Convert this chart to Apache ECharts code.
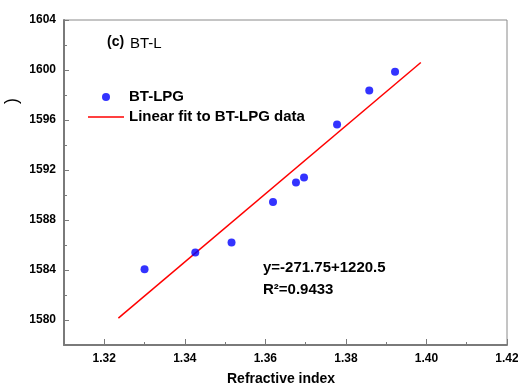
<!DOCTYPE html>
<html>
<head>
<meta charset="utf-8">
<script src="https://cdn.jsdelivr.net/npm/echarts@6/dist/echarts.min.js"></script>
<style>
  html, body { margin: 0; padding: 0; background: #fff; }
  #chart { width: 518px; height: 392px; }
</style>
</head>
<body>
<div id="chart"></div>
<script>
// data
var refIndex = [1.3300, 1.3426, 1.3516, 1.3619, 1.3676, 1.3696, 1.3778, 1.3858, 1.3922];
var ramanShift = [1584.06, 1585.40, 1586.20, 1589.44, 1591.00, 1591.40, 1595.65, 1598.37, 1599.87];
var fitX = [1.3235, 1.3986];
var fitY = [1580.15, 1600.60];

// tick labels
var xTicks = [1.32, 1.34, 1.36, 1.38, 1.40, 1.42];
var xMinor = [1.33, 1.35, 1.37, 1.39, 1.41];
var yTicks = [1580, 1584, 1588, 1592, 1596, 1600, 1604];
var yMinor = [1582, 1586, 1590, 1594, 1598, 1602];

var FONT = '"Liberation Sans", Arial, sans-serif';
var axisGray = '#7a7a7a';

var chart = echarts.init(document.getElementById('chart'));

var scatterData = refIndex.map(function (x, i) { return [x, ramanShift[i]]; });
var fitData = fitX.map(function (x, i) { return [x, fitY[i]]; });

var option = {
    animation: false,
    backgroundColor: '#fff',
    grid: {
        left: 64, top: 20, right: 11, bottom: 47,
        outerBoundsMode: 'none', containLabel: false,
        show: true, borderColor: '#8a8a8a', borderWidth: 1
    },
    legend: {
        orient: 'vertical', left: 88, top: 89, padding: 0,
        itemWidth: 36, itemHeight: 8, itemGap: 4,
        textStyle: {fontFamily: FONT, fontWeight: 'bold', fontSize: 15, color: '#000', lineHeight: 16},
        data: [
            {name: 'BT-LPG'},
            {name: 'Linear fit to BT-LPG data', icon: 'path://M0,0H36V1.5H0Z'}
        ]
    },
    xAxis: [
        {
            type: 'value', min: 1.31, max: 1.42, position: 'bottom',
            axisLine: {show: true, lineStyle: {color: axisGray, width: 2}},
            axisTick: {show: true, inside: true, length: 6, customValues: xTicks, lineStyle: {color: axisGray, width: 1}},
            axisLabel: {
                customValues: xTicks, margin: 8, color: '#000', fontFamily: FONT, fontWeight: 'bold', fontSize: 12,
                formatter: function (v) { return v.toFixed(2); }
            },
            splitLine: {show: false}
        },
        {
            type: 'value', min: 1.31, max: 1.42, position: 'bottom',
            axisLine: {show: false},
            axisTick: {show: true, inside: true, length: 3, customValues: xMinor, lineStyle: {color: axisGray, width: 1}},
            axisLabel: {show: false},
            splitLine: {show: false}
        }
    ],
    yAxis: [
        {
            type: 'value', min: 1578, max: 1604, position: 'left',
            axisLine: {show: true, lineStyle: {color: axisGray, width: 2}},
            axisTick: {show: true, inside: true, length: 5, customValues: yTicks, lineStyle: {color: axisGray, width: 1}},
            axisLabel: {
                customValues: yTicks, margin: 8, color: '#000', fontFamily: FONT, fontWeight: 'bold', fontSize: 12,
                formatter: function (v) { return String(v); }
            },
            splitLine: {show: false}
        },
        {
            type: 'value', min: 1578, max: 1604, position: 'left',
            axisLine: {show: false},
            axisTick: {show: true, inside: true, length: 3, customValues: yMinor, lineStyle: {color: axisGray, width: 1}},
            axisLabel: {show: false},
            splitLine: {show: false}
        }
    ],
    series: [
        {
            name: 'BT-LPG', type: 'scatter',
            symbol: 'circle', symbolSize: 8,
            itemStyle: {color: '#0000ff'},
            data: scatterData, z: 3
        },
        {
            name: 'Linear fit to BT-LPG data', type: 'line',
            showSymbol: false, symbol: 'none',
            lineStyle: {color: '#ff0000', width: 1.5},
            itemStyle: {color: '#ff0000'},
            data: fitData, z: 2
        }
    ],
    graphic: [
        {type: 'text', left: 107, top: 35, style: {text: '(c)', fontFamily: FONT, fontWeight: 'bold', fontSize: 14, fill: '#000'}},
        {type: 'text', left: 130, top: 36, style: {text: 'BT-L', fontFamily: FONT, fontSize: 15, fill: '#000'}},
        {type: 'text', left: 263, top: 260, style: {text: 'y=-271.75+1220.5', fontFamily: FONT, fontWeight: 'bold', fontSize: 15, fill: '#000'}},
        {type: 'text', left: 263, top: 282, style: {text: 'R²=0.9433', fontFamily: FONT, fontWeight: 'bold', fontSize: 15, fill: '#000'}},
        {type: 'text', left: 227, top: 372, style: {text: 'Refractive index', fontFamily: FONT, fontWeight: 'bold', fontSize: 14, fill: '#000'}},
        // only the closing bracket of the rotated y title is visible in the picture
        {
            type: 'group', x: 12, y: 101, rotation: Math.PI / 2,
            children: [
                {type: 'text', x: 0, y: 0, style: {text: ')', fontFamily: FONT, fontSize: 18, fill: '#000', align: 'center', verticalAlign: 'middle'}}
            ]
        }
    ]
};

chart.setOption(option);
</script>
</body>
</html>
